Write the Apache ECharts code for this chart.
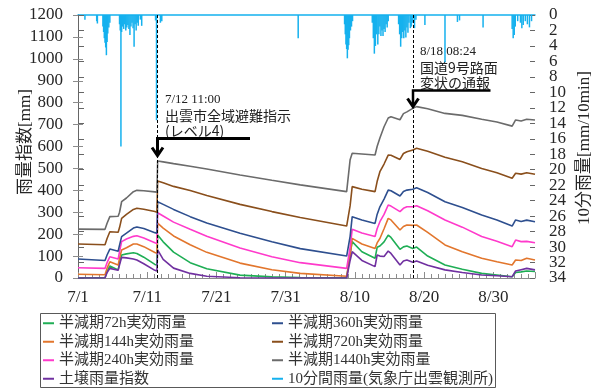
<!DOCTYPE html>
<html>
<head>
<meta charset="utf-8">
<script src="https://cdn.jsdelivr.net/npm/echarts@6/dist/echarts.min.js"></script>
<style>
  html, body { margin: 0; padding: 0; background: #fff; }
  #chart { width: 599px; height: 390px; }
</style>
</head>
<body>
<div id="chart"></div>
<script>
// Elapsed days since 7/1 00:00 for each sample of the rainfall indices
const days = [0, 3.9, 4.2, 4.6, 5.8, 6.0, 6.3, 7.0, 8.0, 8.5, 9.5, 11.1, 11.4, 11.5, 12.3, 13.8, 16.2, 18.6, 23.4, 28, 32.1, 38.8,
  39.3, 39.6, 41, 42.9, 43.2, 43.6, 44.2, 44.8, 45.2, 46.5, 47.0, 47.5, 48.35, 48.9, 50.5, 53.0, 53.2, 55.5, 58.3, 58.5,
  60.5, 62.7, 63.2, 64.0, 64.8, 66.0];

// Effective rainfall [mm] by half-life, and the soil water index
const eff72h = [1, 1, 30, 55, 37, 70, 105, 110, 115, 112, 95, 62, 59, 196, 165, 118, 70, 42, 13, 5, 2, 1,
  110, 166, 120, 90, 140, 146, 165, 196, 185, 131, 142, 146, 135, 141, 100, 59, 66, 40, 21, 24, 14, 6, 25, 28, 32, 30];
const eff144h = [17, 15, 45, 74, 59, 90, 128, 138, 155, 155, 143, 116, 113, 250, 228, 192, 152, 117, 68, 38, 21, 8,
  100, 181, 155, 135, 160, 180, 225, 272, 265, 219, 235, 242, 240, 242, 208, 151, 158, 120, 90, 95, 74, 59, 82, 80, 90, 82];
const eff240h = [47, 44, 70, 97, 87, 120, 166, 178, 190, 193, 183, 161, 158, 298, 283, 255, 222, 190, 137, 97, 70, 44,
  140, 222, 205, 189, 225, 257, 290, 333, 328, 303, 318, 325, 325, 330, 307, 265, 272, 232, 189, 194, 168, 143, 173, 166, 167, 161];
const eff360h = [87, 80, 105, 132, 122, 150, 189, 205, 228, 233, 226, 207, 204, 348, 336, 313, 280, 251, 204, 165, 134, 100,
  190, 280, 265, 249, 290, 325, 360, 401, 398, 374, 395, 401, 405, 412, 390, 348, 355, 322, 287, 292, 265, 237, 265, 258, 264, 257];
const eff720h = [155, 152, 180, 211, 209, 230, 272, 290, 313, 318, 314, 303, 300, 443, 435, 418, 399, 376, 336, 303, 276, 237,
  330, 417, 405, 394, 440, 485, 520, 561, 560, 541, 568, 576, 584, 592, 578, 551, 558, 530, 500, 505, 480, 455, 478, 474, 480, 473];
const eff1440h = [223, 222, 250, 280, 282, 300, 348, 365, 394, 400, 398, 393, 392, 534, 530, 522, 510, 497, 470, 446, 425, 394,
  540, 569, 566, 561, 600, 639, 690, 730, 736, 722, 750, 758, 774, 782, 772, 751, 757, 742, 724, 728, 712, 693, 721, 716, 724, 721];
const soilIndex = [0, 0, 25, 44, 35, 60, 94, 92, 87, 82, 65, 35, 32, 128, 85, 45, 21, 8, 1, 0, 0, 0,
  80, 120, 80, 52, 105, 100, 98, 123, 112, 59, 78, 82, 72, 78, 58, 37, 40, 25, 14, 15, 10, 6, 32, 38, 44, 37];

// 10-minute rainfall [mm/10min]: time (days since 7/1) and amount
const rainDays = [1.0, 2.7, 2.8,
  3.6, 3.7, 3.8, 3.9, 4.0, 4.1, 4.2, 4.3, 4.45, 4.6,
  6.0, 6.1, 6.2, 6.3, 6.45, 6.6, 6.75, 6.9, 7.05, 7.2, 7.35, 7.5, 7.65, 7.8, 7.95, 8.1, 8.25, 8.4, 8.55, 8.7, 9.0, 9.2,
  11.2, 11.34, 11.9, 12.1,
  31.8,
  38.5, 38.6, 38.7, 38.8, 38.9, 39.0, 39.1, 39.2, 39.35, 39.5, 39.65,
  42.5, 42.65, 42.8, 42.95, 43.1, 43.3, 43.45, 43.6, 43.75, 43.9, 44.05, 44.2, 44.35, 44.5, 44.65, 44.8,
  46.3, 46.45, 46.6, 46.75, 46.9, 47.05, 47.2, 47.35, 47.5, 47.65, 47.8, 48.0, 48.15, 48.35, 48.6, 48.8,
  50.1, 53.0, 54.8, 55.1, 58.5,
  62.7, 62.85, 63.0, 63.15, 63.5, 63.9, 64.1, 64.3, 64.6, 64.9, 65.2, 65.5];
const rainVals = [0.6, 0.8, 1.1,
  1.5, 2.2, 3.0, 3.6, 4.2, 5.2, 3.5, 2.4, 1.6, 1.0,
  1.2, 2.0, 17.0, 2.2, 1.5, 1.8, 1.2, 2.0, 1.6, 1.3, 1.8, 2.6, 1.5, 1.0, 1.7, 4.1, 1.2, 2.0, 1.0, 1.4, 0.6, 1.4,
  0.7, 13.6, 1.0, 0.8,
  3.0,
  1.2, 2.5, 3.8, 4.4, 5.6, 4.5, 3.9, 3.0, 2.0, 1.5, 0.8,
  1.0, 3.0, 5.0, 4.0, 2.5, 3.8, 2.5, 1.5, 2.7, 2.0, 2.7, 1.8, 2.2, 1.2, 1.6, 0.8,
  1.2, 2.5, 4.1, 3.0, 2.2, 3.0, 2.0, 2.9, 1.6, 2.3, 1.0, 1.7, 1.5, 1.0, 1.7, 0.6,
  1.3, 6.1, 0.9, 0.7, 1.6,
  1.8, 3.0, 2.6, 1.5, 0.8, 1.0, 1.7, 1.3, 0.8, 1.2, 1.6, 0.8];

// Date labels placed every 10 days along the time axis
const xTickLabels = ['7/1', '7/11', '7/21', '7/31', '8/10', '8/20', '8/30'];

// Event times (days since 7/1): 7/12 11:00 and 8/18 08:24
const eventDays = [11 + 11 / 24, 48 + 8.4 / 24];

const SERIF = '"Liberation Serif","Noto Sans CJK JP",serif';
const GOTHIC = '"Noto Sans CJK JP",sans-serif';
const AXIS_GRAY = '#8c8c8c';
const TEXT = '#262626';
const CYAN = '#15b1ee';

const seriesDefs = [
  { name: '半減期72h実効雨量', values: eff72h, color: '#1fae55' },
  { name: '半減期144h実効雨量', values: eff144h, color: '#e2762d' },
  { name: '半減期240h実効雨量', values: eff240h, color: '#ff3acb' },
  { name: '土壌雨量指数', values: soilIndex, color: '#7030a0' },
  { name: '半減期360h実効雨量', values: eff360h, color: '#2e4f8f' },
  { name: '半減期720h実効雨量', values: eff720h, color: '#8a4f1c' },
  { name: '半減期1440h実効雨量', values: eff1440h, color: '#6b6b6b' }
];
const rainName = '10分間雨量(気象庁出雲観測所)';

const lineSeries = seriesDefs.map((s, i) => ({
  name: s.name,
  type: 'line',
  xAxisIndex: 0,
  yAxisIndex: 0,
  showSymbol: false,
  symbol: 'none',
  color: s.color,
  lineStyle: { color: s.color, width: 1.6 },
  data: days.map((d, k) => [d, s.values[k]]),
  z: 3,
  markLine: i === 0 ? {
    silent: true,
    symbol: ['none', 'none'],
    label: { show: false },
    lineStyle: { color: '#000', type: [3, 2], width: 1 },
    data: eventDays.map(d => ({ xAxis: d }))
  } : undefined
}));

const rainSeries = {
  name: rainName,
  type: 'bar',
  xAxisIndex: 0,
  yAxisIndex: 2,
  barWidth: 1.5,
  color: CYAN,
  itemStyle: { color: CYAN },
  data: rainDays.map((d, k) => [d, rainVals[k]]),
  z: 2
};

// tick labels are wrapped in a rich-text token so that font and size are applied explicitly
const tickRich = { t: { fontFamily: 'Liberation Serif', fontSize: 17, lineHeight: 12, color: TEXT } };
const tick = s => '{t|' + s + '}';
const legendText = { fontFamily: SERIF, fontSize: 15, color: '#333', lineHeight: 17.5 };

// the rain axis labels are split over two coincident axes (multiples of 4 / the rest)
// so neighbouring labels never collide and none gets dropped
const rainLabel = rem => v => (v % 4 === rem ? tick(String(v)) : '');

const option = {
  animation: false,
  grid: { left: 78, right: 64, top: 15, bottom: 112, containLabel: false },
  xAxis: [
    {
      type: 'value', min: 0, max: 66, interval: 10, position: 'bottom',
      axisLine: { onZero: false, lineStyle: { color: AXIS_GRAY, width: 1 } },
      axisTick: { inside: true, length: 6, lineStyle: { color: AXIS_GRAY } },
      axisLabel: {
        margin: 14, rich: tickRich,
        formatter: v => (v % 10 === 0 && xTickLabels[v / 10]) ? tick(xTickLabels[v / 10]) : ''
      },
      splitLine: { show: false }
    },
    {
      type: 'value', min: 0, max: 66, position: 'top',
      axisLine: { onZero: false, lineStyle: { color: CYAN, width: 1.5 } },
      axisTick: { show: false }, axisLabel: { show: false }, splitLine: { show: false }
    },
    {
      type: 'value', min: 0, max: 66, interval: 1, position: 'bottom',
      axisLine: { show: false, onZero: false },
      axisTick: { inside: true, length: 4, lineStyle: { color: AXIS_GRAY } },
      axisLabel: { show: false }, splitLine: { show: false }
    }
  ],
  yAxis: [
    {
      type: 'value', min: 0, max: 1200, interval: 100, position: 'left',
      axisLine: { show: true, lineStyle: { color: AXIS_GRAY } },
      axisTick: { show: true, length: 5, lineStyle: { color: AXIS_GRAY } },
      axisLabel: { margin: 15, rich: tickRich, formatter: v => tick(String(v)), showMinLabel: true, showMaxLabel: true },
      splitLine: { show: false }
    },
    {
      type: 'value', min: 0, max: 1200, interval: 100, position: 'left',
      axisLine: { show: false },
      axisTick: { show: true, inside: true, length: 5, lineStyle: { color: AXIS_GRAY } },
      axisLabel: { show: false }, splitLine: { show: false }
    },
    {
      type: 'value', min: 0, max: 34, interval: 2, position: 'right', inverse: true,
      axisLine: { show: true, lineStyle: { color: '#666' } },
      axisTick: { show: true, length: 6, lineStyle: { color: '#666' } },
      axisLabel: { margin: 14, rich: tickRich, formatter: rainLabel(0), showMinLabel: true, showMaxLabel: true,
        hideOverlap: false },
      splitLine: { show: false }
    },
    {
      type: 'value', min: 0, max: 34, interval: 2, position: 'right', inverse: true,
      axisLine: { show: false },
      axisTick: { show: true, inside: true, length: 5, lineStyle: { color: '#666' } },
      axisLabel: { margin: 14, rich: tickRich, formatter: rainLabel(2), showMinLabel: true, showMaxLabel: true,
        hideOverlap: false },
      splitLine: { show: false }
    }
  ],
  legend: [
    {
      orient: 'vertical', left: 43, top: 314.5, padding: 0, itemGap: 1,
      itemWidth: 11, itemHeight: 2, icon: 'rect', textStyle: legendText,
      data: ['半減期72h実効雨量', '半減期144h実効雨量', '半減期240h実効雨量', '土壌雨量指数']
    },
    {
      orient: 'vertical', left: 272, top: 314.5, padding: 0, itemGap: 1,
      itemWidth: 11, itemHeight: 2, icon: 'rect', textStyle: legendText,
      data: ['半減期360h実効雨量', '半減期720h実効雨量', '半減期1440h実効雨量', rainName]
    }
  ],
  graphic: [
    // legend frame
    { type: 'rect', shape: { x: 40.5, y: 313.5, width: 455, height: 74 },
      style: { fill: 'none', stroke: '#595959', lineWidth: 1 }, silent: true },
    // axis titles
    { type: 'text', x: 26, y: 142, rotation: Math.PI / 2,
      style: { text: '雨量指数[mm]', font: '17px ' + SERIF, fill: TEXT, textAlign: 'center', textVerticalAlign: 'middle' } },
    { type: 'text', x: 585, y: 148, rotation: Math.PI / 2,
      style: { text: '10分雨量[mm/10min]', font: '17px ' + SERIF, fill: TEXT, textAlign: 'center', textVerticalAlign: 'middle' } },
    // 7/12 evacuation order annotation
    { type: 'text', x: 165, y: 100,
      style: { text: '7/12 11:00', font: '13px ' + SERIF, fill: '#222', textVerticalAlign: 'middle' } },
    { type: 'text', x: 165, y: 116,
      style: { text: '出雲市全域避難指示', font: '14px ' + GOTHIC, fill: '#222', textVerticalAlign: 'middle' } },
    { type: 'text', x: 165, y: 131,
      style: { text: '(レベル4)', font: '14px ' + GOTHIC, fill: '#222', textVerticalAlign: 'middle' } },
    { type: 'polyline', shape: { points: [[250, 138.5], [157.5, 138.5], [157.5, 155]] },
      style: { stroke: '#000', lineWidth: 3, fill: 'none' }, z: 10 },
    { type: 'polyline', shape: { points: [[152, 147.5], [157.5, 155.5], [163, 147.5]] },
      style: { stroke: '#000', lineWidth: 3, fill: 'none' }, z: 10 },
    // 8/18 road deformation report annotation
    { type: 'text', x: 420, y: 52,
      style: { text: '8/18 08:24', font: '13px ' + SERIF, fill: '#222', textVerticalAlign: 'middle' } },
    { type: 'text', x: 420, y: 68,
      style: { text: '国道9号路面', font: '14px ' + GOTHIC, fill: '#222', textVerticalAlign: 'middle' } },
    { type: 'text', x: 420, y: 83,
      style: { text: '変状の通報', font: '14px ' + GOTHIC, fill: '#222', textVerticalAlign: 'middle' } },
    { type: 'polyline', shape: { points: [[490.5, 90.5], [413, 90.5], [413, 106]] },
      style: { stroke: '#000', lineWidth: 2.5, fill: 'none' }, z: 10 },
    { type: 'polyline', shape: { points: [[407.5, 98.5], [413, 106.5], [418.5, 98.5]] },
      style: { stroke: '#000', lineWidth: 3, fill: 'none' }, z: 10 }
  ],
  series: [rainSeries].concat(lineSeries)
};

const chart = echarts.init(document.getElementById('chart'), null, { renderer: 'canvas' });
chart.setOption(option);
</script>
</body>
</html>
